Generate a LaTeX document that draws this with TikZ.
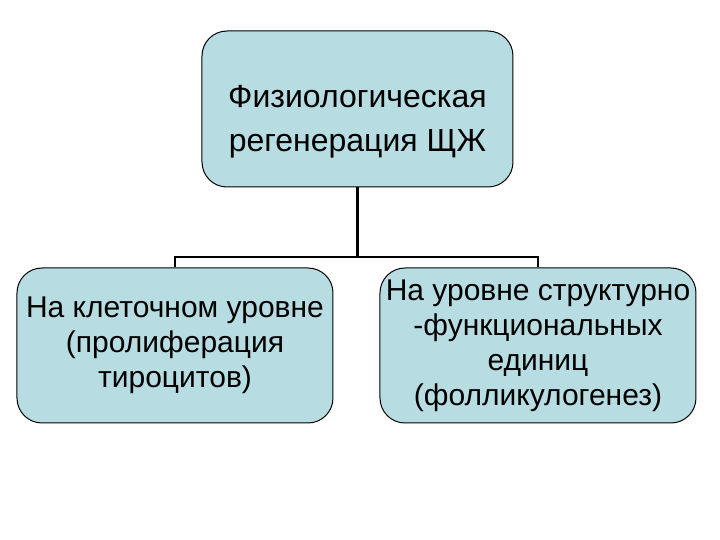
\documentclass[tikz,border=0pt]{standalone}
\usepackage{fontspec}
\setmainfont{Liberation Sans}
\definecolor{boxblue}{RGB}{183,221,226}
\begin{document}
\begin{tikzpicture}[x=0.5pt,y=-0.5pt,
  blok/.style={draw, line width=0.5pt, fill=boxblue, rounded corners=12.5pt, align=center, inner sep=0pt, minimum width=158pt, minimum height=77.5pt, font=\fontsize{15}{17.5}\selectfont},
  svyaz/.style={line width=1.3pt}]
\useasboundingbox (0,0) rectangle (720,540);
\node[blok, minimum width=155.5pt, minimum height=78pt, font=\fontsize{16}{22}\selectfont] (a) at (357.5,109)
  {\raisebox{-6pt}[\height][\depth]{\begin{tabular}{@{}c@{}}Физиологическая\\регенерация ЩЖ\end{tabular}}};
\node[blok] (b) at (175,345.5) {На клеточном уровне\\(пролиферация\\тироцитов)};
\node[blok] (c) at (538,345.5) {На уровне структурно\\-функциональных\\единиц\\(фолликулогенез)};
\coordinate (m) at (357.5,257);
\draw[svyaz] (a.south) -- (m);
\draw[svyaz] (b.north) |- (m) -| (c.north);
\end{tikzpicture}
\end{document}
